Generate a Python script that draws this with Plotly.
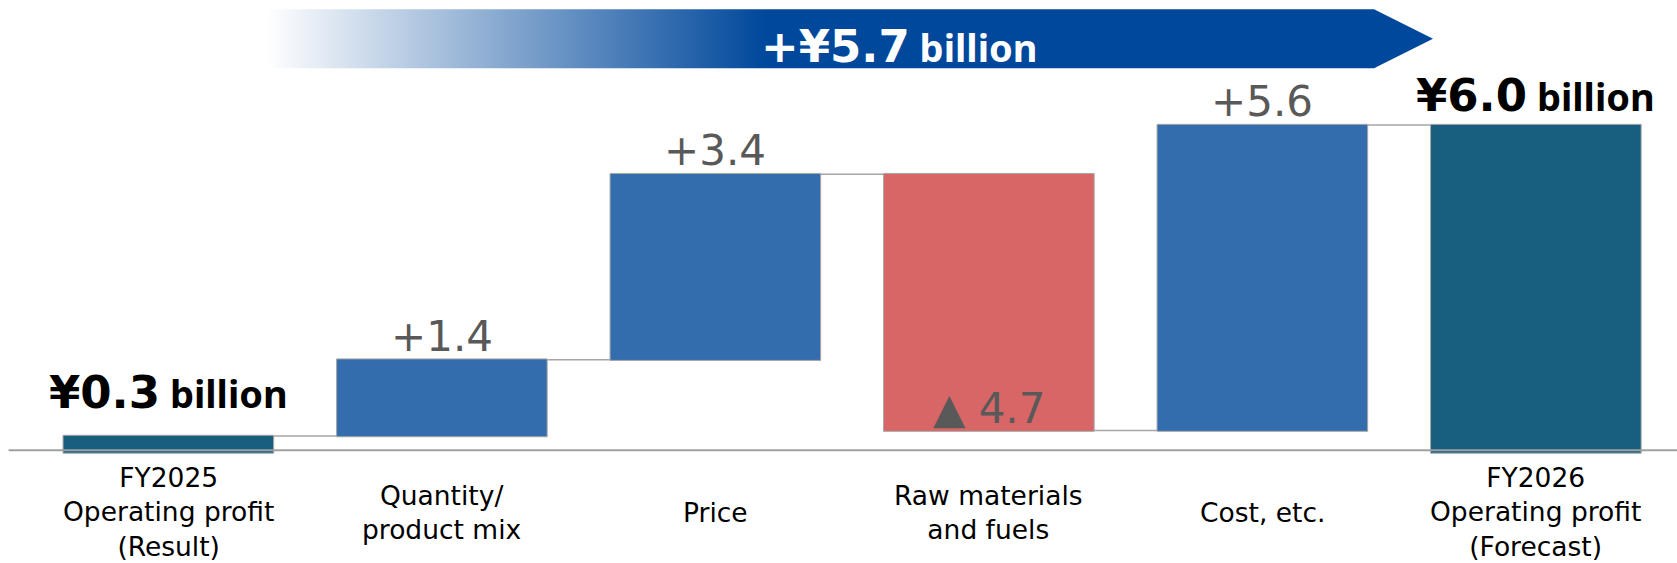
import plotly.graph_objects as go

# ---- data (¥ billion) ----
categories = [
    "FY2025<br>Operating profit<br>(Result)",
    "Quantity/<br>product mix",
    "Price",
    "Raw materials<br>and fuels",
    "Cost, etc.",
    "FY2026<br>Operating profit<br>(Forecast)",
]
measures = ["absolute", "relative", "relative", "relative", "relative", "total"]
values = [0.3, 1.4, 3.4, -4.7, 5.6, 0]
total_change_label = "+¥5.7"
start_label = "¥0.3"
end_label = "¥6.0"

# ---- styling ----
W, H = 1677, 563
C_TOTAL = "#185F7F"
C_UP = "#346DAD"
C_DOWN = "#D86666"
C_EDGE = "#A6A6A6"
C_VALUE = "#595959"
BIG_FONT = "DejaVu Sans"
UNIT_FONT = "Noto Sans"

x_ids = list(range(len(categories)))

# running totals for the label positions
levels = []
run = 0.0
for m, v in zip(measures, values):
    if m == "absolute":
        run = v
        levels.append((0.0, run))
    elif m == "relative":
        prev = run
        run = run + v
        levels.append((prev, run))
    else:
        levels.append((0.0, run))

fig = go.Figure()

fig.add_trace(go.Waterfall(
    x=x_ids,
    y=values,
    measure=measures,
    xaxis="x", yaxis="y",
    increasing=dict(marker=dict(color=C_UP, line=dict(color=C_EDGE, width=1))),
    decreasing=dict(marker=dict(color=C_DOWN, line=dict(color=C_EDGE, width=1))),
    totals=dict(marker=dict(color=C_TOTAL, line=dict(color=C_EDGE, width=1))),
    connector=dict(line=dict(color=C_EDGE, width=1.5)),
    hoverinfo="skip",
    showlegend=False,
))

# banner arrow with a white-to-blue gradient (drawn in pixel coordinates)
fig.add_trace(go.Scatter(
    x=[267, 1374, 1433, 1374, 267, 267],
    y=[9.3, 9.3, 38.8, 68.3, 68.3, 9.3],
    xaxis="x2", yaxis="y2",
    mode="lines",
    line=dict(width=0, color="rgba(0,0,0,0)"),
    fill="toself",
    fillgradient=dict(
        type="horizontal",
        colorscale=[[0, "#FFFFFF"], [0.427, "#00489B"], [1, "#00489B"]],
        start=267, stop=1433,
    ),
    hoverinfo="skip",
    showlegend=False,
))

annotations = []

# change labels on the relative bars
for i, (m, v) in enumerate(zip(measures, values)):
    if m != "relative":
        continue
    lo, hi = levels[i]
    if v >= 0:
        annotations.append(dict(
            x=i, y=hi, xref="x", yref="y", text=f"+{v:.1f}",
            showarrow=False, yanchor="bottom", yshift=-3,
            font=dict(family="DejaVu Sans", size=42, color=C_VALUE),
        ))
    else:
        annotations.append(dict(
            x=i, y=hi, xref="x", yref="y", text=f"▲ {abs(v):.1f}",
            showarrow=False, yanchor="bottom", yshift=-4,
            font=dict(family="DejaVu Sans", size=42, color=C_VALUE),
        ))


def big_label(num):
    return (f"<b>{num}</b><span style='font-family:{UNIT_FONT}; font-size:38px'>"
            f"<b> billion</b></span>")


annotations.append(dict(
    x=0, y=levels[0][1], xref="x", yref="y", text=big_label(start_label),
    showarrow=False, yanchor="bottom", yshift=15,
    font=dict(family=BIG_FONT, size=45, color="#000000"),
))
annotations.append(dict(
    x=len(categories) - 1, y=levels[-1][1], xref="x", yref="y",
    text=big_label(end_label),
    showarrow=False, yanchor="bottom", yshift=1,
    font=dict(family=BIG_FONT, size=45, color="#000000"),
))
annotations.append(dict(
    x=899, y=46, xref="x2", yref="y2",
    text=big_label(total_change_label),
    showarrow=False, yanchor="middle", xanchor="center",
    font=dict(family=BIG_FONT, size=45, color="#FFFFFF"),
))

# category names under the baseline
for i, name in enumerate(categories):
    annotations.append(dict(
        x=i, y=512, xref="x", yref="y2", text=name,
        showarrow=False, yanchor="middle", xanchor="center",
        font=dict(family="DejaVu Sans", size=26.5, color="#000000"),
    ))

# baseline
shapes = [dict(
    type="line", xref="x2", yref="y2",
    x0=8.6, x1=W, y0=450.3, y1=450.3,
    line=dict(color="#A0A0A0", width=2), layer="above",
)]

y_zero_px = 452.4
px_per_unit = (y_zero_px - 125.1) / 6.0

fig.update_layout(
    width=W, height=H,
    margin=dict(l=0, r=0, t=0, b=0),
    paper_bgcolor="#FFFFFF",
    plot_bgcolor="rgba(0,0,0,0)",
    waterfallgap=0.23,
    xaxis=dict(
        domain=[31.6 / W, 1672.6 / W], range=[-0.5, len(categories) - 0.5],
        visible=False, fixedrange=True,
    ),
    yaxis=dict(
        domain=[0, 1],
        range=[-(H - y_zero_px) / px_per_unit, 6.0 + 125.1 / px_per_unit],
        visible=False, fixedrange=True,
    ),
    xaxis2=dict(domain=[0, 1], range=[0, W], anchor="y2", visible=False, fixedrange=True),
    yaxis2=dict(domain=[0, 1], range=[H, 0], anchor="x2", visible=False, fixedrange=True),
    annotations=annotations,
    shapes=shapes,
    showlegend=False,
)

fig.write_html("out.html", config={"displayModeBar": False})
